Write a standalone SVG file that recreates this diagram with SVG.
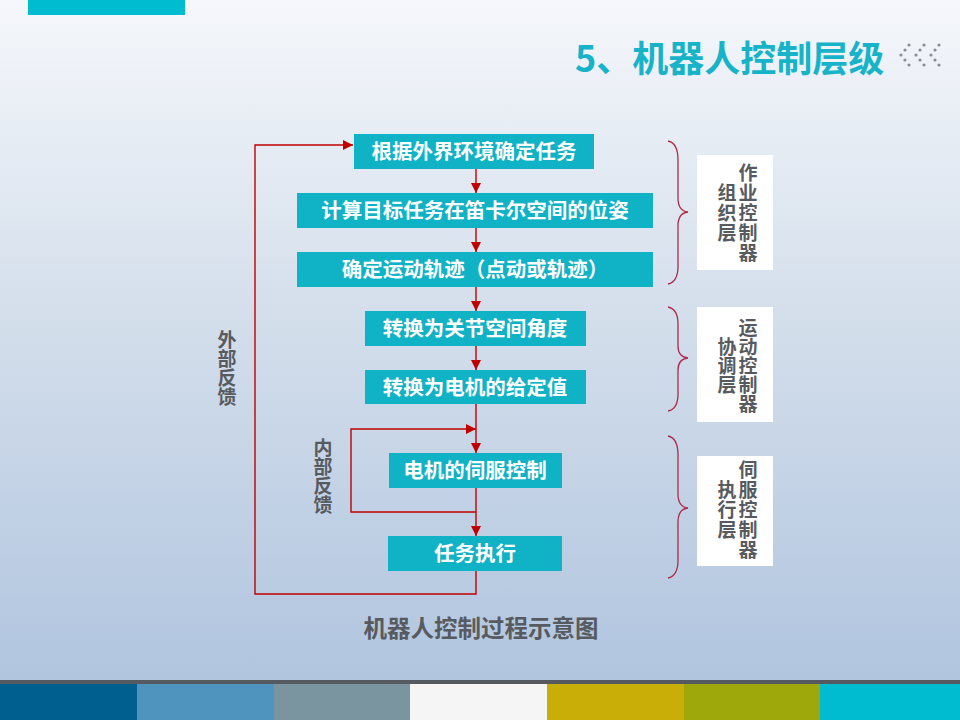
<svg xmlns="http://www.w3.org/2000/svg" width="960" height="720" viewBox="0 0 960 720">
<defs>
<linearGradient id="bg" x1="0" y1="0" x2="0" y2="1">
<stop offset="0" stop-color="#f5f7fb"/>
<stop offset="0.45" stop-color="#d3deeb"/>
<stop offset="1" stop-color="#adc2de"/>
</linearGradient>
<marker id="ah" markerUnits="userSpaceOnUse" markerWidth="10" markerHeight="11" viewBox="0 0 10 11" refX="10" refY="5.5" orient="auto">
<path d="M0,0.5 L10,5.5 L0,10.5 Z" fill="#c00000"/>
</marker>
<style>
.box{fill:#10b2c6}
.bt{font-family:"Noto Sans CJK SC","Liberation Sans",sans-serif;font-weight:bold;font-size:20.5px;fill:#ffffff;text-anchor:middle}
.vt{font-family:"Noto Sans CJK SC","Liberation Sans",sans-serif;font-weight:bold;font-size:19px;fill:#575b60;writing-mode:vertical-rl;text-orientation:upright;text-anchor:start}
.sp{letter-spacing:1px}
.wb{fill:#ffffff}
.brace{fill:none;stroke:#b22a4a;stroke-width:1.3}
.con{fill:none;stroke:#c00000;stroke-width:1.4}
.dot{fill:#8a8e94}
</style>
</defs>
<rect x="0" y="0" width="960" height="720" fill="url(#bg)"/>
<rect x="28" y="0" width="157" height="15" fill="#00bcd0"/>
<text x="575" y="72" font-family="'Noto Sans CJK SC','Liberation Sans',sans-serif" font-weight="bold" font-size="36" fill="#17b3c8">5、机器人控制层级</text>
<g id="chevrons">
<circle class="dot" cx="909" cy="45" r="1.6"/><circle class="dot" cx="905" cy="50" r="1.6"/><circle class="dot" cx="901" cy="55" r="1.6"/><circle class="dot" cx="905" cy="60" r="1.6"/><circle class="dot" cx="909" cy="65" r="1.6"/>
<circle class="dot" cx="924" cy="45" r="1.6"/><circle class="dot" cx="920" cy="50" r="1.6"/><circle class="dot" cx="916" cy="55" r="1.6"/><circle class="dot" cx="920" cy="60" r="1.6"/><circle class="dot" cx="924" cy="65" r="1.6"/>
<circle class="dot" cx="939" cy="45" r="1.6"/><circle class="dot" cx="935" cy="50" r="1.6"/><circle class="dot" cx="931" cy="55" r="1.6"/><circle class="dot" cx="935" cy="60" r="1.6"/><circle class="dot" cx="939" cy="65" r="1.6"/>
</g>
<g id="connectors">
<path class="con" d="M476 169 V193" marker-end="url(#ah)"/>
<path class="con" d="M476 228 V252" marker-end="url(#ah)"/>
<path class="con" d="M476 287 V311" marker-end="url(#ah)"/>
<path class="con" d="M476 346 V370" marker-end="url(#ah)"/>
<path class="con" d="M476 404 V453" marker-end="url(#ah)"/>
<path class="con" d="M476 512 H351 V429 H476" marker-end="url(#ah)"/>
<path class="con" d="M476 488 V536" marker-end="url(#ah)"/>
<path class="con" d="M476 571 V594 H255 V145 H353" marker-end="url(#ah)"/>
</g>
<g id="n1"><rect class="box" x="354" y="134" width="240" height="35"/><text class="bt" x="474" y="159">根据外界环境确定任务</text></g>
<g id="n2"><rect class="box" x="297" y="193" width="356" height="35"/><text class="bt" x="475" y="218">计算目标任务在笛卡尔空间的位姿</text></g>
<g id="n3"><rect class="box" x="297" y="252" width="356" height="35"/><text class="bt" x="475" y="277">确定运动轨迹（点动或轨迹）</text></g>
<g id="n4"><rect class="box" x="365" y="311" width="221" height="35"/><text class="bt" x="475" y="336">转换为关节空间角度</text></g>
<g id="n5"><rect class="box" x="365" y="370" width="221" height="34"/><text class="bt" x="475" y="395">转换为电机的给定值</text></g>
<g id="n6"><rect class="box" x="389" y="453" width="173" height="35"/><text class="bt" x="475" y="478">电机的伺服控制</text></g>
<g id="n7"><rect class="box" x="388" y="536" width="174" height="35"/><text class="bt" x="475" y="561">任务执行</text></g>
<g id="outer-label"><text class="vt" x="227" y="330">外部反馈</text></g>
<g id="inner-label"><text class="vt" x="323" y="438">内部反馈</text></g>
<g id="layer1">
<path class="brace" d="M668 141 Q678 143 678 160 V198 Q678 211 688 212 Q678 213 678 226 V266 Q678 282 668 284"/>
<rect class="wb" x="697" y="155" width="76" height="115"/>
<text class="vt sp" x="748" y="163">作业控制器</text>
<text class="vt sp" x="727" y="183">组织层</text>
</g>
<g id="layer2">
<path class="brace" d="M668 307 Q678 309 678 324 V346 Q678 357 688 358 Q678 359 678 370 V394 Q678 409 668 411"/>
<rect class="wb" x="697" y="307" width="76" height="115"/>
<text class="vt" x="748" y="318">运动控制器</text>
<text class="vt" x="727" y="337">协调层</text>
</g>
<g id="layer3">
<path class="brace" d="M668 436 Q678 438 678 455 V494 Q678 507 688 508 Q678 509 678 522 V560 Q678 576 668 578"/>
<rect class="wb" x="697" y="456" width="76" height="110"/>
<text class="vt sp" x="748" y="460">伺服控制器</text>
<text class="vt sp" x="727" y="480">执行层</text>
</g>
<text x="481" y="637" font-family="'Noto Sans CJK SC','Liberation Sans',sans-serif" font-weight="bold" font-size="23.5" fill="#575b60" text-anchor="middle">机器人控制过程示意图</text>
<g id="footer">
<rect x="0" y="680" width="960" height="4" fill="#555a60"/>
<rect x="0" y="684" width="137" height="36" fill="#005f8e"/>
<rect x="137" y="684" width="137" height="36" fill="#4f93bf"/>
<rect x="274" y="684" width="136" height="36" fill="#7a95a0"/>
<rect x="410" y="684" width="137" height="36" fill="#f5f5f5"/>
<rect x="547" y="684" width="137" height="36" fill="#c8ae07"/>
<rect x="684" y="684" width="136" height="36" fill="#9ea80b"/>
<rect x="820" y="684" width="140" height="36" fill="#00bcd0"/>
</g>
</svg>
